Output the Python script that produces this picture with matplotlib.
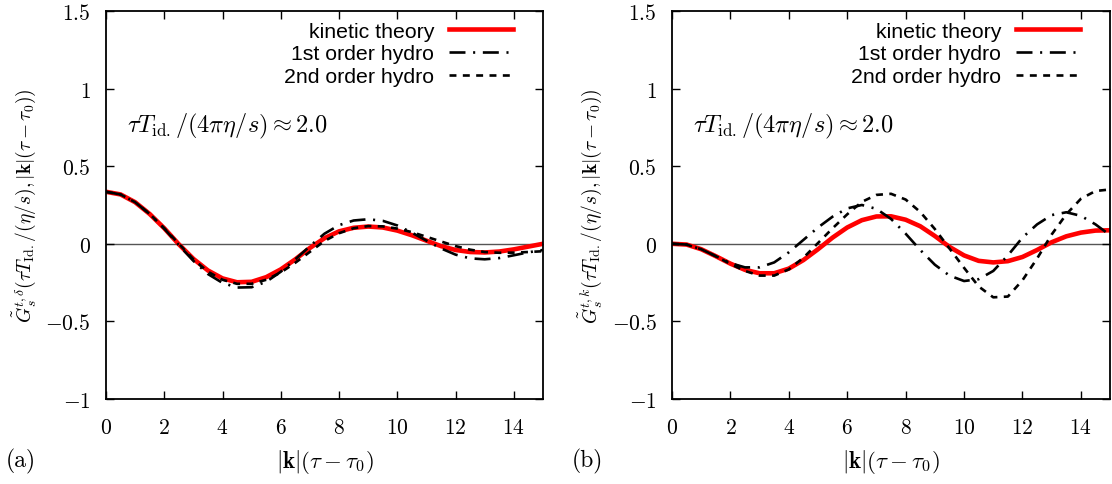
import numpy as np
import matplotlib
matplotlib.use("Agg")
import matplotlib.pyplot as plt
from matplotlib.ticker import FuncFormatter

plt.rcParams['mathtext.fontset'] = 'cm'
plt.rcParams['lines.scale_dashes'] = False

# -------------------------------
# DATA
# -------------------------------
k = np.arange(0, 15.01, 0.5)   # |k|(tau - tau0)

# panel (a): G^{t,delta}
kin_a = [0.335, 0.318, 0.268, 0.192, 0.100, -0.003, -0.097, -0.172, -0.223, -0.248,
         -0.245, -0.215, -0.165, -0.100, -0.027, 0.036, 0.080, 0.103, 0.111, 0.105,
         0.085, 0.055, 0.020, -0.015, -0.040, -0.053, -0.056, -0.050, -0.036, -0.018, 0.0]
first_a = [0.335, 0.318, 0.268, 0.192, 0.098, -0.008, -0.110, -0.195, -0.252, -0.282,
           -0.280, -0.245, -0.180, -0.100, -0.015, 0.065, 0.120, 0.150, 0.158, 0.148,
           0.118, 0.072, 0.020, -0.030, -0.070, -0.094, -0.100, -0.092, -0.074, -0.055, -0.040]
second_a = [0.335, 0.318, 0.268, 0.192, 0.100, 0.0, -0.100, -0.180, -0.232, -0.258,
            -0.258, -0.232, -0.185, -0.122, -0.052, 0.018, 0.068, 0.100, 0.114, 0.112,
            0.098, 0.075, 0.045, 0.015, -0.015, -0.038, -0.053, -0.058, -0.057, -0.053, -0.048]

# panel (b): G^{t,k}
kin_b = [0.0, -0.005, -0.035, -0.080, -0.128, -0.168, -0.190, -0.190, -0.160, -0.105,
         -0.035, 0.040, 0.105, 0.152, 0.176, 0.177, 0.155, 0.113, 0.050, -0.020,
         -0.075, -0.110, -0.120, -0.112, -0.085, -0.040, 0.010, 0.048, 0.072, 0.085, 0.087]
first_b = [0.0, -0.005, -0.035, -0.080, -0.125, -0.152, -0.152, -0.120, -0.055, 0.025,
           0.105, 0.175, 0.228, 0.250, 0.225, 0.160, 0.065, -0.040, -0.135, -0.205,
           -0.240, -0.228, -0.175, -0.075, 0.040, 0.125, 0.185, 0.203, 0.180, 0.125, 0.055]
second_b = [0.0, -0.005, -0.035, -0.080, -0.130, -0.175, -0.205, -0.205, -0.165, -0.090,
            0.005, 0.100, 0.190, 0.270, 0.315, 0.322, 0.285, 0.205, 0.095, -0.030,
            -0.155, -0.275, -0.345, -0.340, -0.235, -0.095, 0.060, 0.190, 0.290, 0.340, 0.350]

xticks = [0, 2, 4, 6, 8, 10, 12, 14]
yticks = [-1, -0.5, 0, 0.5, 1, 1.5]

ylabels = [r"$\tilde{G}_s^{t,\delta}(\tau T_{\rm Id.}/(\eta/s),|\mathbf{k}|(\tau-\tau_0))$",
           r"$\tilde{G}_s^{t,k}(\tau T_{\rm Id.}/(\eta/s),|\mathbf{k}|(\tau-\tau_0))$"]
panel_tags = ["(a)", "(b)"]
note = r"$\tau T_{\rm id.}/(4\pi\eta/s) \approx 2.0$"

# -------------------------------
# PLOT
# -------------------------------
fig = plt.figure(figsize=(11.12, 4.85), dpi=100)
ax_a = fig.add_axes([0.0953, 0.1753, 0.393, 0.80])
ax_b = fig.add_axes([0.6043, 0.1753, 0.394, 0.80])

fmt = FuncFormatter(lambda v, p: f"${v:g}$")

for ax, kin, first, second, ylab, tag in [
        (ax_a, kin_a, first_a, second_a, ylabels[0], panel_tags[0]),
        (ax_b, kin_b, first_b, second_b, ylabels[1], panel_tags[1])]:
    ax.axhline(0, color="#555555", lw=1.0, zorder=1)
    ax.plot(k, kin, color="#ff0000", lw=3.3, label="kinetic theory", zorder=2)
    ax.plot(k, first, color="black", lw=1.9, dashes=(11.5, 5.5, 1.5, 5.5),
            label="1st order hydro", zorder=3)
    ax.plot(k, second, color="black", lw=1.9, dashes=(5, 4.6),
            label="2nd order hydro", zorder=3)

    ax.set_xlim(0, 15)
    ax.set_ylim(-1, 1.5)
    ax.set_xticks(xticks)
    ax.set_yticks(yticks)
    ax.xaxis.set_major_formatter(fmt)
    ax.yaxis.set_major_formatter(fmt)
    ax.tick_params(direction="in", length=6, width=1, top=True, right=True,
                   labelsize=15.5)
    ax.tick_params(axis="x", pad=13)
    ax.tick_params(axis="y", pad=11)
    for s in ax.spines.values():
        s.set_linewidth(1.3)

    ax.set_xlabel(r"$|\mathbf{k}|(\tau-\tau_0)$", fontsize=16.5, va="center")
    ax.xaxis.set_label_coords(0.5, -0.16)
    ax.set_ylabel(ylab, fontsize=14)
    ax.yaxis.set_label_coords(-0.155, 0.5)

    ax.text(0.048, 0.704, note, transform=ax.transAxes, fontsize=17.5, va="center")

    leg = ax.legend(loc="upper right", bbox_to_anchor=(0.955, 1.0), frameon=False,
                    markerfirst=False, handlelength=3.0, handletextpad=0.7,
                    labelspacing=0.18, borderaxespad=0.1,
                    prop={"family": "Liberation Sans", "size": 15.3})
    for col in leg._legend_box._children[-1]._children:
        col.align = "right"

    bb = ax.get_position()
    fig.text(bb.x0 - 0.0898, 0.048, tag, fontsize=17, family="cmr10", va="center")

fig.savefig("out.png", dpi=100)
